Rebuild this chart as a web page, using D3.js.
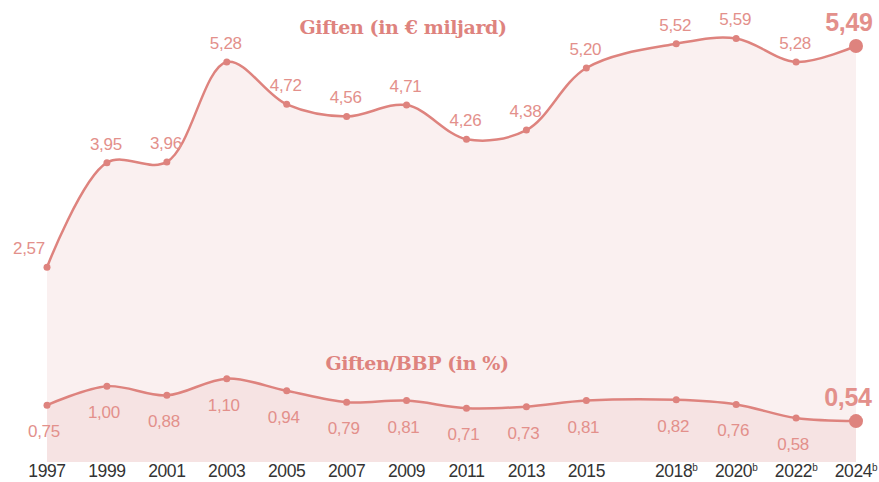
<!DOCTYPE html>
<html>
<head>
<meta charset="utf-8">
<script src="https://cdn.jsdelivr.net/npm/d3@7"></script>
<style>
  body { margin: 0; background: #fff; }
  text { font-family: "Liberation Sans", Arial, sans-serif; }
</style>
</head>
<body>
<script>
var years = [1997, 1999, 2001, 2003, 2005, 2007, 2009, 2011, 2013, 2015, 2018, 2020, 2022, 2024]
var yearLabels = ["1997", "1999", "2001", "2003", "2005", "2007", "2009", "2011", "2013", "2015", "2018", "2020", "2022", "2024"]
var yearNotes = ["", "", "", "", "", "", "", "", "", "", "b", "b", "b", "b"]
var giften = [2.57, 3.95, 3.96, 5.28, 4.72, 4.56, 4.71, 4.26, 4.38, 5.20, 5.52, 5.59, 5.28, 5.49]
var giftenBbp = [0.75, 1.00, 0.88, 1.10, 0.94, 0.79, 0.81, 0.71, 0.73, 0.81, 0.82, 0.76, 0.58, 0.54]
var titles = ["Giften (in € miljard)", "Giften/BBP (in %)"]

var width = 879, height = 482
var lineColor = "#de837e"
var labelColor = "#e3908b"

var svg = d3.select("body").append("svg")
  .attr("width", width)
  .attr("height", height)

var x = d3.scaleLinear().domain([1997, 2024]).range([47, 856])
var y = d3.scaleLinear().domain([0, 5.49]).range([462, 46])

var fmt = function(v) { return d3.format(".2f")(v).replace(".", ",") }

function drawSeries(values, fill) {
  var data = years.map(function(yr, i) { return {year: yr, value: values[i]} })
  var area = d3.area()
    .x(function(d) { return x(d.year) })
    .y0(y(0))
    .y1(function(d) { return y(d.value) })
    .curve(d3.curveCatmullRom.alpha(0.5))
  var line = d3.line()
    .x(function(d) { return x(d.year) })
    .y(function(d) { return y(d.value) })
    .curve(d3.curveCatmullRom.alpha(0.5))

  svg.append("path").datum(data)
    .attr("d", area)
    .attr("fill", fill)
  svg.append("path").datum(data)
    .attr("d", line)
    .attr("fill", "none")
    .attr("stroke", lineColor)
    .attr("stroke-width", 2.5)
  svg.selectAll(null).data(data).enter().append("circle")
    .attr("cx", function(d) { return x(d.year) })
    .attr("cy", function(d) { return y(d.value) })
    .attr("r", function(d, i) { return i == data.length - 1 ? 7 : 3.5 })
    .attr("fill", lineColor)
  return data
}

var topData = drawSeries(giften, "#faf0f0")
var bottomData = drawSeries(giftenBbp, "#f6e3e3")

function isLast(i) { return i == years.length - 1 }

// value labels, top series above the points
svg.selectAll(null).data(topData).enter().append("text")
  .attr("x", function(d, i) { return i == 0 ? x(d.year) - 18 : isLast(i) ? x(d.year) - 7 : x(d.year) - 1 })
  .attr("y", function(d, i) { return isLast(i) ? y(d.value) - 15 : y(d.value) - 13 })
  .attr("text-anchor", "middle")
  .attr("fill", labelColor)
  .attr("font-size", function(d, i) { return isLast(i) ? 25 : 17 })
  .attr("font-weight", function(d, i) { return isLast(i) ? "bold" : "normal" })
  .style("letter-spacing", "-0.3px")
  .text(function(d) { return fmt(d.value) })

// bottom series below the points, last one above
svg.selectAll(null).data(bottomData).enter().append("text")
  .attr("x", function(d, i) { return isLast(i) ? x(d.year) - 8 : x(d.year) - 3 })
  .attr("y", function(d, i) { return isLast(i) ? y(d.value) - 15 : y(d.value) + 32 })
  .attr("text-anchor", "middle")
  .attr("fill", labelColor)
  .attr("font-size", function(d, i) { return isLast(i) ? 25 : 17 })
  .attr("font-weight", function(d, i) { return isLast(i) ? "bold" : "normal" })
  .style("letter-spacing", "-0.3px")
  .text(function(d) { return fmt(d.value) })

// titles
svg.selectAll(null).data(titles).enter().append("text")
  .attr("x", function(d, i) { return i == 0 ? 403 : 417 })
  .attr("y", function(d, i) { return i == 0 ? 34 : 370 })
  .attr("text-anchor", "middle")
  .attr("fill", lineColor)
  .attr("font-size", 19)
  .attr("font-weight", "bold")
  .style("font-family", "'DejaVu Serif', 'Liberation Serif', serif")
  .style("letter-spacing", "-0.4px")
  .text(function(d) { return d })

// x axis labels
var ticks = svg.selectAll(null).data(years).enter().append("text")
  .attr("x", function(d) { return x(d) })
  .attr("y", 477)
  .attr("text-anchor", "middle")
  .attr("fill", "#333")
  .attr("font-size", 17.5)
  .style("letter-spacing", "-0.4px")
ticks.append("tspan").text(function(d, i) { return yearLabels[i] })
ticks.append("tspan")
  .attr("font-size", 10)
  .attr("dy", -6)
  .text(function(d, i) { return yearNotes[i] })
</script>
</body>
</html>
